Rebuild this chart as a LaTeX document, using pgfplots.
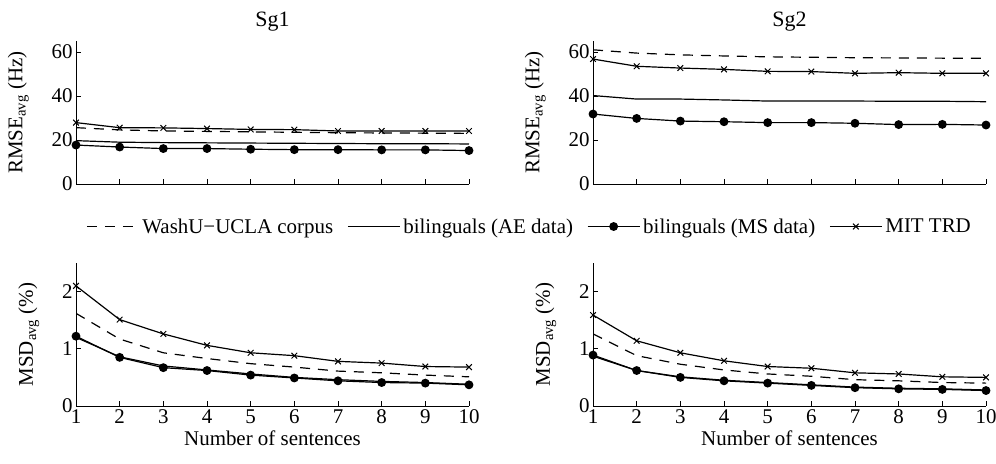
\documentclass[border=0pt]{standalone}
\usepackage{pgfplots}
\pgfplotsset{compat=1.18}
\usepackage{fontspec}
\setmainfont{Liberation Serif}
\begin{document}
\begin{tikzpicture}[x=1bp,y=1bp,font=\fontsize{21}{24}\selectfont]
\useasboundingbox (0,0) rectangle (996,464);
\pgfplotsset{
  mystyle/.style={
    scale only axis, width=393bp, height=143bp,
    axis x line=bottom, axis y line=left,
    axis line style={-, line width=0.8pt},
    xmin=1, xmax=10, xtick={1,...,10},
    tick align=inside, major tick length=5bp,
    tick style={black, line width=0.6pt},
    /pgf/number format/assume math mode=true,
    every axis plot/.append style={line width=1.2pt, black},
    title style={font=\fontsize{22}{24}\selectfont, yshift=0bp},
    ylabel style={yshift=16bp},
    legend image code/.code={\draw[mark repeat=2,mark phase=2] plot coordinates {(0bp,0bp)(26bp,0bp)(52bp,0bp)};},
  },
  wash/.style={dash pattern=on 10bp off 8bp, mark=none},
  ae/.style={solid, mark=none},
  ms/.style={solid, mark=*, mark size=3.8bp, mark options={solid, fill=black}},
  mit/.style={solid, mark=x, mark size=4bp, mark options={solid, line width=1pt}},
}
% Sg1 RMSE
\begin{axis}[mystyle, at={(76bp,280bp)}, anchor=south west, ymin=0, ymax=65, ytick={0,20,40,60},
  xticklabels={}, title={Sg1}, ylabel={RMSE\textsubscript{avg} (Hz)}]
\addplot[wash] coordinates {(1,25.6)(2,24.6)(3,24.1)(4,23.9)(5,23.7)(6,23.5)(7,23.3)(8,23.2)(9,23.1)(10,23.0)};
\addplot[ae] coordinates {(1,19.7)(2,19.0)(3,18.8)(4,18.7)(5,18.6)(6,18.5)(7,18.4)(8,18.3)(9,18.3)(10,18.2)};
\addplot[ms] coordinates {(1,17.7)(2,16.8)(3,16.1)(4,16.1)(5,15.8)(6,15.6)(7,15.6)(8,15.5)(9,15.5)(10,15.2)};
\addplot[mit] coordinates {(1,27.9)(2,25.6)(3,25.5)(4,25.2)(5,24.8)(6,24.7)(7,24.1)(8,24.1)(9,24.1)(10,24.1)};
\end{axis}
% Sg2 RMSE
\begin{axis}[mystyle, at={(593bp,280bp)}, anchor=south west, ymin=0, ymax=65, ytick={0,20,40,60},
  xticklabels={}, title={Sg2}, ylabel={RMSE\textsubscript{avg} (Hz)}]
\addplot[wash] coordinates {(1,61.0)(2,59.5)(3,58.7)(4,58.2)(5,57.8)(6,57.6)(7,57.4)(8,57.3)(9,57.2)(10,57.1)};
\addplot[ae] coordinates {(1,40.2)(2,38.6)(3,38.6)(4,38.2)(5,37.7)(6,37.7)(7,37.7)(8,37.6)(9,37.6)(10,37.4)};
\addplot[ms] coordinates {(1,31.8)(2,29.8)(3,28.6)(4,28.3)(5,27.9)(6,27.9)(7,27.6)(8,27.0)(9,27.1)(10,26.8)};
\addplot[mit] coordinates {(1,56.8)(2,53.5)(3,52.7)(4,52.1)(5,51.2)(6,51.1)(7,50.3)(8,50.6)(9,50.3)(10,50.3)};
\end{axis}
% Sg1 MSD
\begin{axis}[mystyle, at={(76bp,58bp)}, anchor=south west, ymin=0, ymax=2.5, ytick={0,1,2},
  xlabel={Number of sentences}, ylabel={MSD\textsubscript{avg} (\%)},
  legend style={at={(1.154,1.255)}, anchor=center, draw=none, fill=none, legend columns=4,
    font=\fontsize{21}{24}\selectfont,
    /tikz/every odd column/.append style={column sep=1bp},
    /tikz/every even column/.append style={column sep=12bp}},
  legend cell align=left]
\addplot[wash] coordinates {(1,1.62)(2,1.17)(3,0.93)(4,0.83)(5,0.74)(6,0.68)(7,0.61)(8,0.58)(9,0.54)(10,0.51)};
\addlegendentry{WashU−UCLA corpus}
\addplot[ae] coordinates {(1,1.20)(2,0.86)(3,0.70)(4,0.63)(5,0.56)(6,0.50)(7,0.46)(8,0.43)(9,0.41)(10,0.38)};
\addlegendentry{bilinguals (AE data)}
\addplot[ms] coordinates {(1,1.22)(2,0.85)(3,0.67)(4,0.62)(5,0.54)(6,0.49)(7,0.44)(8,0.41)(9,0.40)(10,0.37)};
\addlegendentry{bilinguals (MS data)}
\addplot[mit] coordinates {(1,2.10)(2,1.51)(3,1.26)(4,1.06)(5,0.93)(6,0.88)(7,0.78)(8,0.75)(9,0.69)(10,0.68)};
\addlegendentry{MIT TRD}
\end{axis}
% Sg2 MSD
\begin{axis}[mystyle, at={(593bp,58bp)}, anchor=south west, ymin=0, ymax=2.5, ytick={0,1,2},
  xlabel={Number of sentences}, ylabel={MSD\textsubscript{avg} (\%)}]
\addplot[wash] coordinates {(1,1.26)(2,0.88)(3,0.73)(4,0.63)(5,0.56)(6,0.52)(7,0.46)(8,0.44)(9,0.41)(10,0.40)};
\addplot[ae] coordinates {(1,0.87)(2,0.62)(3,0.51)(4,0.45)(5,0.41)(6,0.37)(7,0.33)(8,0.31)(9,0.30)(10,0.28)};
\addplot[ms] coordinates {(1,0.89)(2,0.62)(3,0.50)(4,0.44)(5,0.40)(6,0.36)(7,0.32)(8,0.30)(9,0.29)(10,0.27)};
\addplot[mit] coordinates {(1,1.59)(2,1.14)(3,0.93)(4,0.79)(5,0.69)(6,0.66)(7,0.58)(8,0.56)(9,0.51)(10,0.50)};
\end{axis}
\end{tikzpicture}
\end{document}
